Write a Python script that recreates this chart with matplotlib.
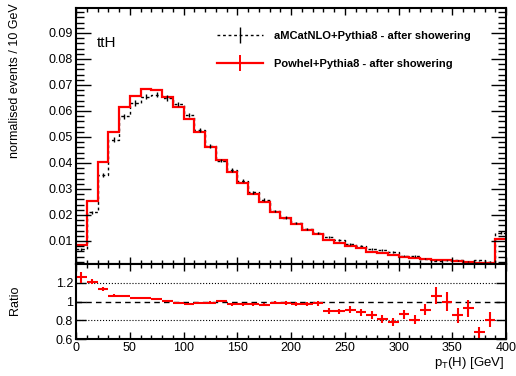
import numpy as np
import matplotlib
matplotlib.use("Agg")
import matplotlib.pyplot as plt
from matplotlib.lines import Line2D
from matplotlib.ticker import MultipleLocator

plt.rcParams['font.family'] = ['Liberation Sans', 'DejaVu Sans']
plt.rcParams['mathtext.fontset'] = 'custom'
plt.rcParams['mathtext.rm'] = 'Liberation Sans'

# 10 GeV bins from 0 to 400 GeV (last bin holds the overflow)
edges = np.arange(0, 401, 10)
centers = edges[:-1] + 5

# Powhel+Pythia8 (red)
powhel = [0.0085, 0.0254, 0.0403, 0.0520, 0.0617, 0.0658, 0.0683, 0.0681, 0.0655, 0.0614,
          0.0569, 0.0520, 0.0460, 0.0412, 0.0364, 0.0322, 0.0281, 0.0249, 0.0213, 0.0187,
          0.0164, 0.0142, 0.0126, 0.0104, 0.0093, 0.0081, 0.0072, 0.0059, 0.0053, 0.0045,
          0.0038, 0.0034, 0.0029, 0.0026, 0.0025, 0.0022, 0.0019, 0.0017, 0.0017, 0.0109]

# aMCatNLO+Pythia8 (black dashed)
amcnlo = [0.0068, 0.0210, 0.0355, 0.0489, 0.0580, 0.0631, 0.0655, 0.0662, 0.0650, 0.0627,
          0.0584, 0.0527, 0.0465, 0.0409, 0.0374, 0.0331, 0.0288, 0.0258, 0.0215, 0.0190,
          0.0169, 0.0146, 0.0129, 0.0116, 0.0104, 0.0089, 0.0082, 0.0069, 0.0065, 0.0058,
          0.0044, 0.0042, 0.0032, 0.0024, 0.0025, 0.0026, 0.0021, 0.0025, 0.0021, 0.0132]
amcnlo_err = [0.0005, 0.0006, 0.0008, 0.0009, 0.0009, 0.0010, 0.0010, 0.0010, 0.0010, 0.0009,
              0.0009, 0.0009, 0.0008, 0.0007, 0.0007, 0.0006, 0.0006, 0.0006, 0.0005, 0.0005,
              0.0005, 0.0004, 0.0004, 0.0004, 0.0004, 0.0003, 0.0003, 0.0003, 0.0003, 0.0003,
              0.0003, 0.0003, 0.0002, 0.0002, 0.0002, 0.0002, 0.0002, 0.0002, 0.0002, 0.0005]

# ratio Powhel / aMCatNLO (bins 0..38)
ratio = [1.258, 1.212, 1.134, 1.064, 1.064, 1.042, 1.042, 1.028, 1.007, 0.979,
         0.975, 0.986, 0.989, 1.007, 0.972, 0.972, 0.972, 0.965, 0.989, 0.982,
         0.972, 0.972, 0.979, 0.900, 0.894, 0.912, 0.883, 0.855, 0.812, 0.780,
         0.862, 0.805, 0.912, 1.064, 1.000, 0.851, 0.926, 0.670, 0.805]
ratio_err = [0.060, 0.030, 0.020, 0.012, 0.010, 0.010, 0.010, 0.010, 0.010, 0.010,
             0.012, 0.012, 0.012, 0.012, 0.015, 0.015, 0.015, 0.018, 0.018, 0.020,
             0.020, 0.022, 0.025, 0.030, 0.030, 0.035, 0.035, 0.040, 0.040, 0.045,
             0.050, 0.050, 0.060, 0.090, 0.100, 0.080, 0.090, 0.060, 0.080]

W, H = 516, 376
fig = plt.figure(figsize=(W / 100, H / 100), dpi=100)
ax = fig.add_axes([76 / W, 1 - 264 / H, 430 / W, 256 / H])
axr = fig.add_axes([76 / W, 1 - 339 / H, 430 / W, 75 / H], sharex=ax)

# top panel
ax.stairs(amcnlo, edges, color='black', lw=1, ls=(0, (2, 2)), baseline=None)
ax.errorbar(centers, amcnlo, yerr=amcnlo_err, fmt='none', ecolor='black', elinewidth=1)
ax.stairs(powhel, edges, color='red', lw=1.6, baseline=None)

ax.set_xlim(0, 400)
ax.set_ylim(0.00115, 0.0996)
ax.yaxis.set_major_locator(MultipleLocator(0.01))
ax.yaxis.set_minor_locator(MultipleLocator(0.002))
ax.xaxis.set_major_locator(MultipleLocator(50))
ax.xaxis.set_minor_locator(MultipleLocator(10))
ax.set_yticks([0.01, 0.02, 0.03, 0.04, 0.05, 0.06, 0.07, 0.08, 0.09])
ax.set_yticklabels(['0.01', '0.02', '0.03', '0.04', '0.05', '0.06', '0.07', '0.08', '0.09'])
ax.tick_params(which='both', direction='in', top=True, right=True, labelsize=9, width=1)
ax.tick_params(axis='y', which='major', length=11, pad=2)
ax.tick_params(axis='y', which='minor', length=5.5)
ax.tick_params(axis='x', which='major', length=5)
ax.tick_params(axis='x', which='minor', length=2.8)
ax.tick_params(axis='x', labelbottom=False)

ax.text(0.049, 0.863, 'ttH', transform=ax.transAxes, fontsize=11, va='center')

h_amc = Line2D([], [], color='black', lw=1, ls=(0, (2, 2)), marker='|', markersize=11, mew=1)
h_pow = Line2D([], [], color='red', lw=1.6, marker='|', markersize=12, mew=1.4)
leg = ax.legend([h_amc, h_pow],
                ['aMCatNLO+Pythia8 - after showering', 'Powhel+Pythia8 - after showering'],
                loc='center left', bbox_to_anchor=(0.328, 0.835), frameon=False,
                prop={'weight': 'bold', 'size': 8}, handlelength=4.1, handletextpad=1.0,
                labelspacing=1.6, borderpad=0, borderaxespad=0, numpoints=1)

# ratio panel
axr.axhline(1.0, color='black', lw=1, ls=(0, (4, 3)))
axr.axhline(1.2, color='black', lw=0.8, ls=':')
axr.axhline(0.8, color='black', lw=0.8, ls=':')
axr.errorbar(centers[:len(ratio)], ratio, xerr=5, yerr=ratio_err, fmt='none',
             ecolor='red', elinewidth=1.5)
axr.set_ylim(0.6, 1.4)
axr.set_yticks([0.6, 0.8, 1.0, 1.2])
axr.set_yticklabels(['0.6', '0.8', '1', '1.2'])
axr.set_xticks(np.arange(0, 401, 50))
axr.tick_params(which='both', direction='in', top=True, right=True, labelsize=9, width=1)
axr.tick_params(axis='y', which='major', length=7, pad=2)
axr.tick_params(axis='x', which='major', length=5, pad=2)
axr.tick_params(axis='x', which='minor', length=2.8)

for a in (ax, axr):
    for s in a.spines.values():
        s.set_linewidth(1.5)

fig.text(15 / W, 1 - 3 / H, 'normalised events / 10 GeV', rotation=90,
         ha='center', va='top', fontsize=9)
fig.text(15 / W, 1 - 300 / H, 'Ratio', rotation=90, ha='center', va='center', fontsize=9)
fig.text(505 / W, 1 - 363 / H, r'p$_{\mathregular{T}}$(H) [GeV]', ha='right', va='center',
         fontsize=9.5)

fig.savefig('out.png', dpi=100)
